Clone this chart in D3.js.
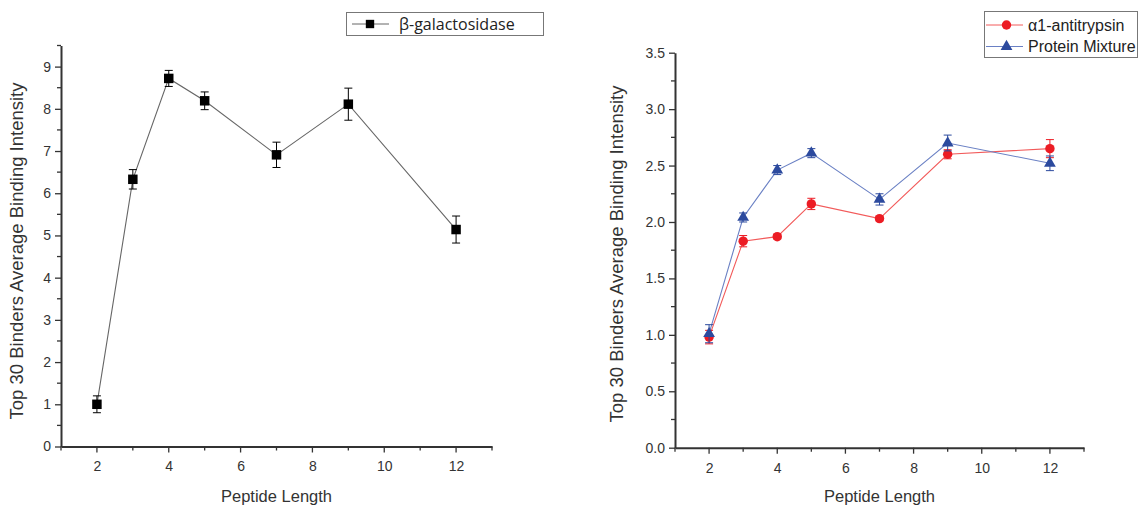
<!DOCTYPE html>
<html>
<head>
<meta charset="utf-8">
<script src="https://d3js.org/d3.v7.min.js"></script>
<style>
  body { margin: 0; background: #fff; }
  text { font-family: "Liberation Sans", Arial, sans-serif; }
</style>
</head>
<body>
<script>
// peptide lengths (shared x values)
var lengths = [2, 3, 4, 5, 7, 9, 12];

// left panel: beta-galactosidase
var galValues = [1.0, 6.33, 8.72, 8.19, 6.91, 8.11, 5.14];
var galErrors = [0.2, 0.23, 0.19, 0.21, 0.3, 0.38, 0.32];

// right panel: alpha1-antitrypsin and protein mixture
var antiValues = [0.98, 1.83, 1.87, 2.16, 2.03, 2.60, 2.65];
var antiErrors = [0.06, 0.05, 0.02, 0.05, 0.02, 0.04, 0.08];
var mixValues = [1.01, 2.04, 2.46, 2.61, 2.20, 2.70, 2.52];
var mixErrors = [0.08, 0.04, 0.04, 0.04, 0.05, 0.07, 0.065];

// tick labels
var xTickValues = [2, 4, 6, 8, 10, 12];
var leftYTicks = [0, 1, 2, 3, 4, 5, 6, 7, 8, 9];
var rightYTicks = [0, 0.5, 1, 1.5, 2, 2.5, 3, 3.5];

var W = 1139, H = 506;
var axisColor = "#333";

var svg = d3.select("body").append("svg")
  .attr("width", W)
  .attr("height", H);

// draws axes for one panel, returns scales
function panel(opts) {
  var x = d3.scaleLinear().domain([1, 13]).range([opts.left, opts.right]);
  var y = d3.scaleLinear().domain([0, opts.yMax]).range([opts.bottom, opts.top]);
  var g = svg.append("g");

  // x axis: labels at even numbers, ticks at every integer (minor ones shorter)
  var xAxis = d3.axisBottom(x).tickValues(xTickValues).tickSize(0).tickPadding(15).tickSizeOuter(0);
  var gx = g.append("g").attr("transform", "translate(0," + opts.bottom + ")").call(xAxis);
  gx.selectAll(".xt").data(d3.range(1, 14)).join("line")
    .attr("class", "xt")
    .attr("x1", function(d){ return x(d); })
    .attr("x2", function(d){ return x(d); })
    .attr("y1", 0)
    .attr("y2", function(d){ return d % 2 == 0 ? 6 : 4; })
    .attr("stroke", axisColor).attr("stroke-width", 1.3);

  // y axis
  var yAxis = d3.axisLeft(y).tickValues(opts.yTicks).tickSize(6).tickPadding(4).tickSizeOuter(0)
    .tickFormat(opts.fmt);
  var gy = g.append("g").attr("transform", "translate(" + opts.left + ",0)").call(yAxis);
  gy.selectAll(".minor").data(opts.yMinor).join("line")
    .attr("class", "minor")
    .attr("x1", 0).attr("x2", -4)
    .attr("y1", function(d){ return y(d); })
    .attr("y2", function(d){ return y(d); })
    .attr("stroke", axisColor).attr("stroke-width", 1.3);

  [gx, gy].forEach(function(a){
    a.select(".domain").attr("stroke", axisColor).attr("stroke-width", 2);
    a.selectAll(".tick line").attr("stroke", axisColor).attr("stroke-width", 1.3);
    a.selectAll("text").attr("fill", "#333").style("font-size", "14px")
      .style("font-family", "'Liberation Sans', Arial, sans-serif");
  });

  // axis titles
  g.append("text")
    .attr("x", (opts.left + opts.right) / 2).attr("y", 502)
    .attr("text-anchor", "middle").attr("fill", "#333").style("font-size", "16.5px")
    .text("Peptide Length");
  g.append("text")
    .attr("transform", "translate(" + opts.titleX + "," + opts.titleY + ") rotate(-90)")
    .attr("text-anchor", "middle").attr("fill", "#333").style("font-size", "18.5px")
    .text("Top 30 Binders Average Binding Intensity");

  return { x: x, y: y };
}

// line + error bars + markers for one series
function series(sc, values, errors, lineColor, color, marker) {
  var pts = lengths.map(function(d, i){ return { x: d, v: values[i], e: errors[i] }; });
  var line = d3.line().x(function(d){ return sc.x(d.x); }).y(function(d){ return sc.y(d.v); });
  svg.append("path").datum(pts)
    .attr("d", line).attr("fill", "none")
    .attr("stroke", lineColor).attr("stroke-width", 1.1);

  var eb = svg.append("g").selectAll("g").data(pts).join("g")
    .attr("stroke", color).attr("stroke-width", 1);
  eb.append("line")
    .attr("x1", function(d){ return sc.x(d.x); }).attr("x2", function(d){ return sc.x(d.x); })
    .attr("y1", function(d){ return sc.y(d.v + d.e); }).attr("y2", function(d){ return sc.y(d.v - d.e); });
  eb.append("line")
    .attr("x1", function(d){ return sc.x(d.x) - 4; }).attr("x2", function(d){ return sc.x(d.x) + 4; })
    .attr("y1", function(d){ return sc.y(d.v + d.e); }).attr("y2", function(d){ return sc.y(d.v + d.e); });
  eb.append("line")
    .attr("x1", function(d){ return sc.x(d.x) - 4; }).attr("x2", function(d){ return sc.x(d.x) + 4; })
    .attr("y1", function(d){ return sc.y(d.v - d.e); }).attr("y2", function(d){ return sc.y(d.v - d.e); });

  svg.append("g").selectAll("path").data(pts).join("path")
    .attr("transform", function(d){ return "translate(" + sc.x(d.x) + "," + sc.y(d.v) + ")"; })
    .attr("d", marker)
    .attr("fill", color);
}

var squareSym = d3.symbol().type(d3.symbolSquare).size(90);
var circleSym = d3.symbol().type(d3.symbolCircle).size(70);
var triSym = d3.symbol().type(d3.symbolTriangle).size(60);

// left panel
var left = panel({
  left: 61, right: 492, top: 45.5, bottom: 446.5, yMax: 9.5,
  yTicks: leftYTicks, yMinor: d3.range(0.5, 9.6, 1), fmt: d3.format("d"),
  titleX: 23, titleY: 251
});
series(left, galValues, galErrors, "#666", "#000", squareSym);

// right panel
var right = panel({
  left: 675, right: 1084, top: 52.7, bottom: 447.7, yMax: 3.5,
  yTicks: rightYTicks, yMinor: d3.range(0.25, 3.5, 0.5), fmt: d3.format(".1f"),
  titleX: 623, titleY: 254
});
series(right, antiValues, antiErrors, "#f25a5a", "#ec1c24", circleSym);
series(right, mixValues, mixErrors, "#6a80c4", "#2c4a9e", triSym);

// legend left
var lg = svg.append("g");
lg.append("rect").attr("x", 346.5).attr("y", 12.5).attr("width", 197).attr("height", 23)
  .attr("fill", "none").attr("stroke", "#777").attr("stroke-width", 1);
lg.append("line").attr("x1", 352).attr("x2", 389).attr("y1", 24).attr("y2", 24)
  .attr("stroke", "#666").attr("stroke-width", 1);
lg.append("path").attr("transform", "translate(370,24)").attr("d", squareSym.size(70)()).attr("fill", "#000");
lg.append("text").attr("x", 399).attr("y", 29.5)
  .style("font-family", "'Open Sans', 'Noto Sans', sans-serif").style("font-size", "16px").attr("fill", "#222")
  .text("β-galactosidase");

// legend right
var lr = svg.append("g");
lr.append("rect").attr("x", 984.5).attr("y", 11.5).attr("width", 153).attr("height", 46)
  .attr("fill", "none").attr("stroke", "#777").attr("stroke-width", 1);
var legendRows = [
  { label: "α1-antitrypsin", line: "#f25a5a", color: "#ec1c24", sym: circleSym, y: 25 },
  { label: "Protein Mixture", line: "#6a80c4", color: "#2c4a9e", sym: triSym, y: 46.5 }
];
legendRows.forEach(function(r){
  lr.append("line").attr("x1", 986).attr("x2", 1023).attr("y1", r.y).attr("y2", r.y)
    .attr("stroke", r.line).attr("stroke-width", 1);
  lr.append("path").attr("transform", "translate(1006.5," + r.y + ")").attr("d", r.sym()).attr("fill", r.color);
  lr.append("text").attr("x", 1028).attr("y", r.y + 5.5)
    .style("font-size", "16px").attr("fill", "#222").text(r.label);
});
</script>
</body>
</html>
